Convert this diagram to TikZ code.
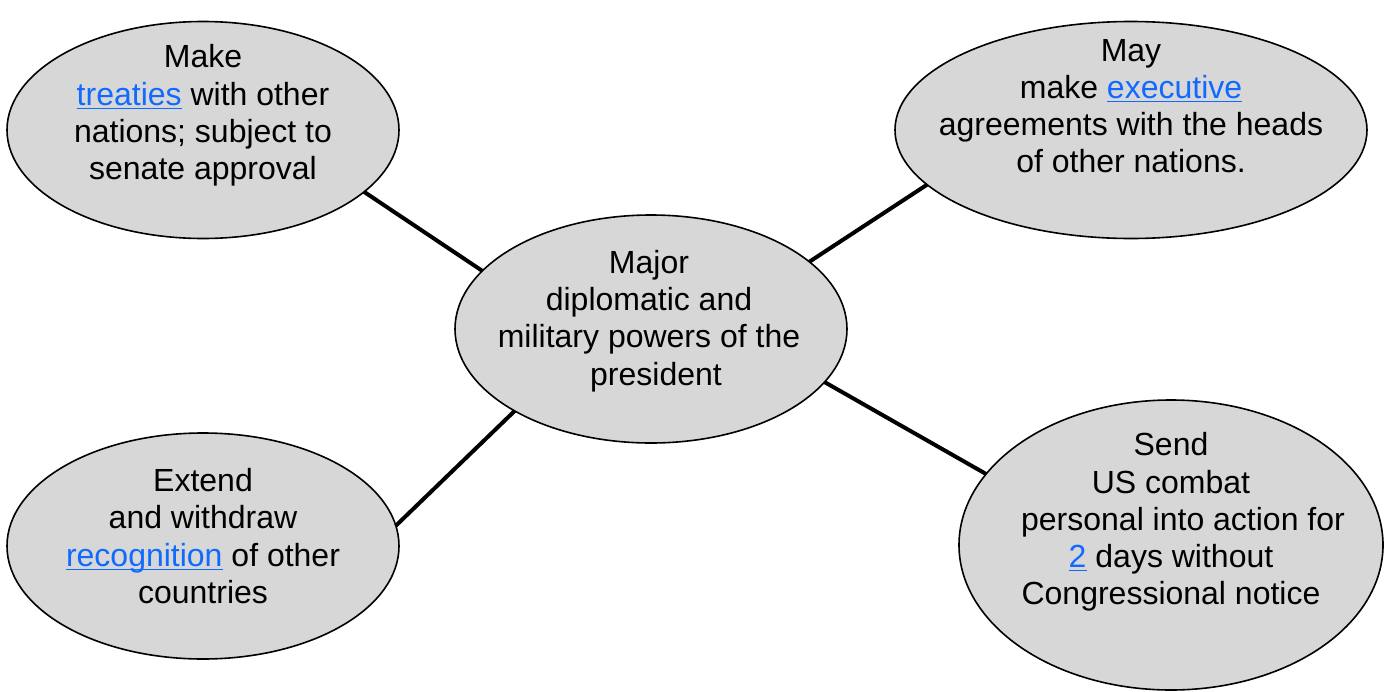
\documentclass[tikz,border=0pt]{standalone}
\usepackage{fontspec}
\setmainfont{Liberation Sans}
\usetikzlibrary{shapes.geometric}
\definecolor{bubblegray}{RGB}{215,215,215}
\definecolor{linkblue}{RGB}{16,106,255}
\newcommand{\hlink}[1]{\textcolor{linkblue}{\setbox0\hbox{#1}\rlap{\rule[-4pt]{\wd0}{1.5pt}}\box0}}

\begin{document}
\begin{tikzpicture}[x=1pt,y=-1pt,
    bubble/.style={ellipse, draw, line width=1.6pt, fill=bubblegray, inner sep=0pt, outer sep=0pt},
    txt/.style={align=center, inner sep=0pt, font=\fontsize{32}{37.2}\selectfont},
    spoke/.style={line width=4pt}]
  \fill[white] (0,0) rectangle (1390,691);
  \useasboundingbox (0,0) rectangle (1390,691);
  % bubbles
  \node[bubble, minimum width=392pt, minimum height=217pt] (treaty) at (203,130) {};
  \node[bubble, minimum width=472pt, minimum height=217pt] (exec) at (1131,130) {};
  \node[bubble, minimum width=392pt, minimum height=228pt] (pres) at (651,329) {};
  \node[bubble, minimum width=392pt, minimum height=226pt] (recog) at (203,546) {};
  \node[bubble, minimum width=424pt, minimum height=290pt] (combat) at (1171,545) {};
  % texts
  \node[txt] (treatytxt) at (203,115.4) {Make\\\hlink{treaties} with other\\nations; subject to\\senate approval};
  \node[txt] (exectxt) at (1131,106) {May\\make \hlink{executive}\\agreements with the heads\\of other nations.};
  \node[txt] (prestxt) at (649,321) {Major\\diplomatic and\\military powers of the\\\hspace*{14pt}president};
  \node[txt] (recogtxt) at (203,536) {Extend\\and withdraw\\\hlink{recognition} of other\\countries};
  \node[txt] (combattxt) at (1171,522) {Send\\US combat\\\hspace*{24pt}personal into action for\\\hlink{2} days without\\Congressional notice};
  % spokes
  \draw[spoke] (treaty.-21) -- (pres.161);
  \draw[spoke] (pres.23) -- (exec.-165);
  \draw[spoke] (pres.211) -- (recog.6);
  \draw[spoke] (pres.-17) -- (combat.159);
\end{tikzpicture}
\end{document}
